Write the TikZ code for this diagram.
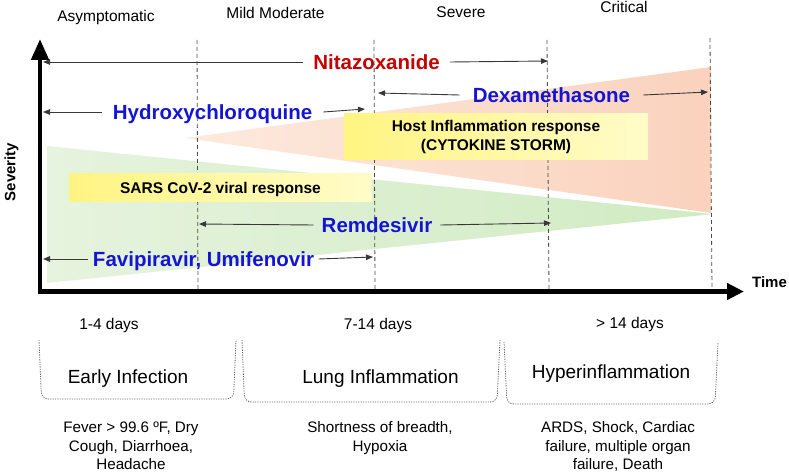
\documentclass[tikz,border=0pt]{standalone}
\usepackage{fontspec}
\setmainfont{Liberation Sans}
\usetikzlibrary{arrows.meta}
\definecolor{drugblue}{RGB}{20,20,212}
\definecolor{drugred}{RGB}{196,0,0}
\definecolor{orL}{RGB}{253,234,222}
\definecolor{orR}{RGB}{250,210,189}
\definecolor{grL}{RGB}{230,243,222}
\definecolor{grR}{RGB}{208,235,194}
\definecolor{yeL}{RGB}{255,244,130}
\definecolor{yeR}{RGB}{255,252,200}
\tikzset{
  lab/.style={font=\fontsize{15.5}{18}\selectfont, text height=11.1pt, text depth=0pt, inner sep=0pt},
  stage/.style={font=\fontsize{19}{22}\selectfont, text height=13.6pt, text depth=0pt, inner sep=0pt},
  symp/.style={font=\fontsize{15.2}{18.5}\selectfont, align=center, inner sep=0pt, anchor=base},
  drug/.style={font=\fontsize{20.5}{24}\selectfont\bfseries, text=drugblue, text height=14.7pt, text depth=0pt, inner ysep=0pt, inner xsep=10pt},
  axlab/.style={font=\fontsize{15}{18}\selectfont\bfseries, text height=10.8pt, text depth=0pt, inner sep=0pt},
  arr/.style={draw=black!78, line width=0.9pt, -{Triangle[length=7pt,width=5.5pt]}},
  vdash/.style={draw=black!70, line width=0.8pt, dash pattern=on 4pt off 3pt},
  tray/.style={draw=black!60, line width=0.8pt, dash pattern=on 1.2pt off 1.2pt, rounded corners=7pt},
  ybox/.style={left color=yeL, right color=yeR, draw=none, font=\fontsize{15.5}{19}\selectfont\bfseries, align=center, inner sep=0pt}
}
\begin{document}
\begin{tikzpicture}[x=1pt,y=-1pt]
\useasboundingbox (0,0) rectangle (789,473);

% response wedges
\shade[left color=orL, right color=orR] (185,138) -- (711,67) -- (711,213) -- cycle;
\shade[left color=grL, right color=grR] (47,146) -- (713,214) -- (47,283) -- cycle;

% stage separators
\coordinate (d1t) at (197,40);  \coordinate (d1b) at (198,291);
\coordinate (d2t) at (374,40);  \coordinate (d2b) at (375,291);
\coordinate (d3t) at (547,40);  \coordinate (d3b) at (549,291);
\coordinate (d4t) at (710,38);  \coordinate (d4b) at (712,291);
\draw[vdash] (d1t) -- (d1b);
\draw[vdash] (d2t) -- (d2b);
\draw[vdash] (d3t) -- (d3b);
\draw[vdash] (d4t) -- (d4b);

% boxes
\node[ybox, minimum width=304pt, minimum height=46pt] (host) at (496,137) {Host Inflammation response\\(CYTOKINE STORM)};
\node[ybox, minimum width=303pt, minimum height=28pt, text height=11.1pt, text depth=0pt] (sars) at (220.5,187.5) {SARS CoV-2 viral response};

% axes
\coordinate (ytop) at (40,39);
\coordinate (orig) at (40,291.5);
\coordinate (xend) at (744,291.5);
\draw[line width=4.6pt, {Triangle[length=21pt,width=17pt]}-{Triangle[length=17pt,width=16pt]}] (ytop) -- (orig) -- (xend);
\node[axlab] (time) at (769.5,282) {Time};
\node[axlab, rotate=90] (sev) at (10,172) {Severity};

% phase headings
\node[lab] (asy) at (106,16) {Asymptomatic};
\node[lab] (mild) at (275.5,13) {Mild Moderate};
\node[lab] (sevr) at (461,11.5) {Severe};
\node[lab] (crit) at (624,7) {Critical};

% drugs
\coordinate (yax) at (43,0);
\node[drug, text=drugred] (nit) at (376.5,62) {Nitazoxanide};
\coordinate (nitR) at (548,61);
\draw[arr] (nit.west) -- (nit.west -| yax);
\draw[arr] (nit.east) -- (nitR);

\node[drug, inner xsep=11pt] (hcq) at (212.5,112) {Hydroxychloroquine};
\coordinate (hcqR) at (365,109);
\draw[arr] (hcq.west) -- (hcq.west -| yax);
\draw[arr] (hcq.east) -- (hcqR);

\node[drug, inner xsep=13pt] (dex) at (551.5,95) {Dexamethasone};
\coordinate (dexL) at (378,93);
\coordinate (dexR) at (708,92);
\draw[arr] (dex.west) -- (dexL);
\draw[arr] (dex.east) -- (dexR);

\node[drug, inner xsep=8pt] (rem) at (377,225) {Remdesivir};
\coordinate (remL) at (199,224);
\coordinate (remR) at (551,223);
\draw[arr] (rem.west) -- (remL);
\draw[arr] (rem.east) -- (remR);

\node[drug, inner xsep=4.5pt] (fav) at (203.5,259) {Favipiravir, Umifenovir};
\coordinate (favR) at (373,257);
\draw[arr] (fav.west) -- (fav.west -| yax);
\draw[arr] (fav.east) -- (favR);

% durations
\node[lab] (t1) at (109,324) {1-4 days};
\node[lab] (t2) at (378,324) {7-14 days};
\node[lab] (t3) at (630,323) {> 14 days};

% trays
\draw[tray] (39,340) -- (41.5,399) -- (233.5,399) -- (236,340);
\draw[tray] (242,340) -- (244.5,402) -- (497,402) -- (500,340);
\draw[tray] (504,342) -- (507,404) -- (715,404) -- (718,342);

\node[stage] (s1) at (128,377) {Early Infection};
\node[stage] (s2) at (380.5,377) {Lung Inflammation};
\node[stage] (s3) at (611,372) {Hyperinflammation};

% symptoms (base anchor = baseline of the last line)
\node[symp] (y1) at (131,469.5) {Fever > 99.6 ºF, Dry\\Cough, Diarrhoea,\\Headache};
\node[symp] (y2) at (380,451) {Shortness of breadth,\\Hypoxia};
\node[symp] (y3) at (618,469.5) {ARDS, Shock, Cardiac\\failure, multiple organ\\failure, Death};
\end{tikzpicture}
\end{document}
